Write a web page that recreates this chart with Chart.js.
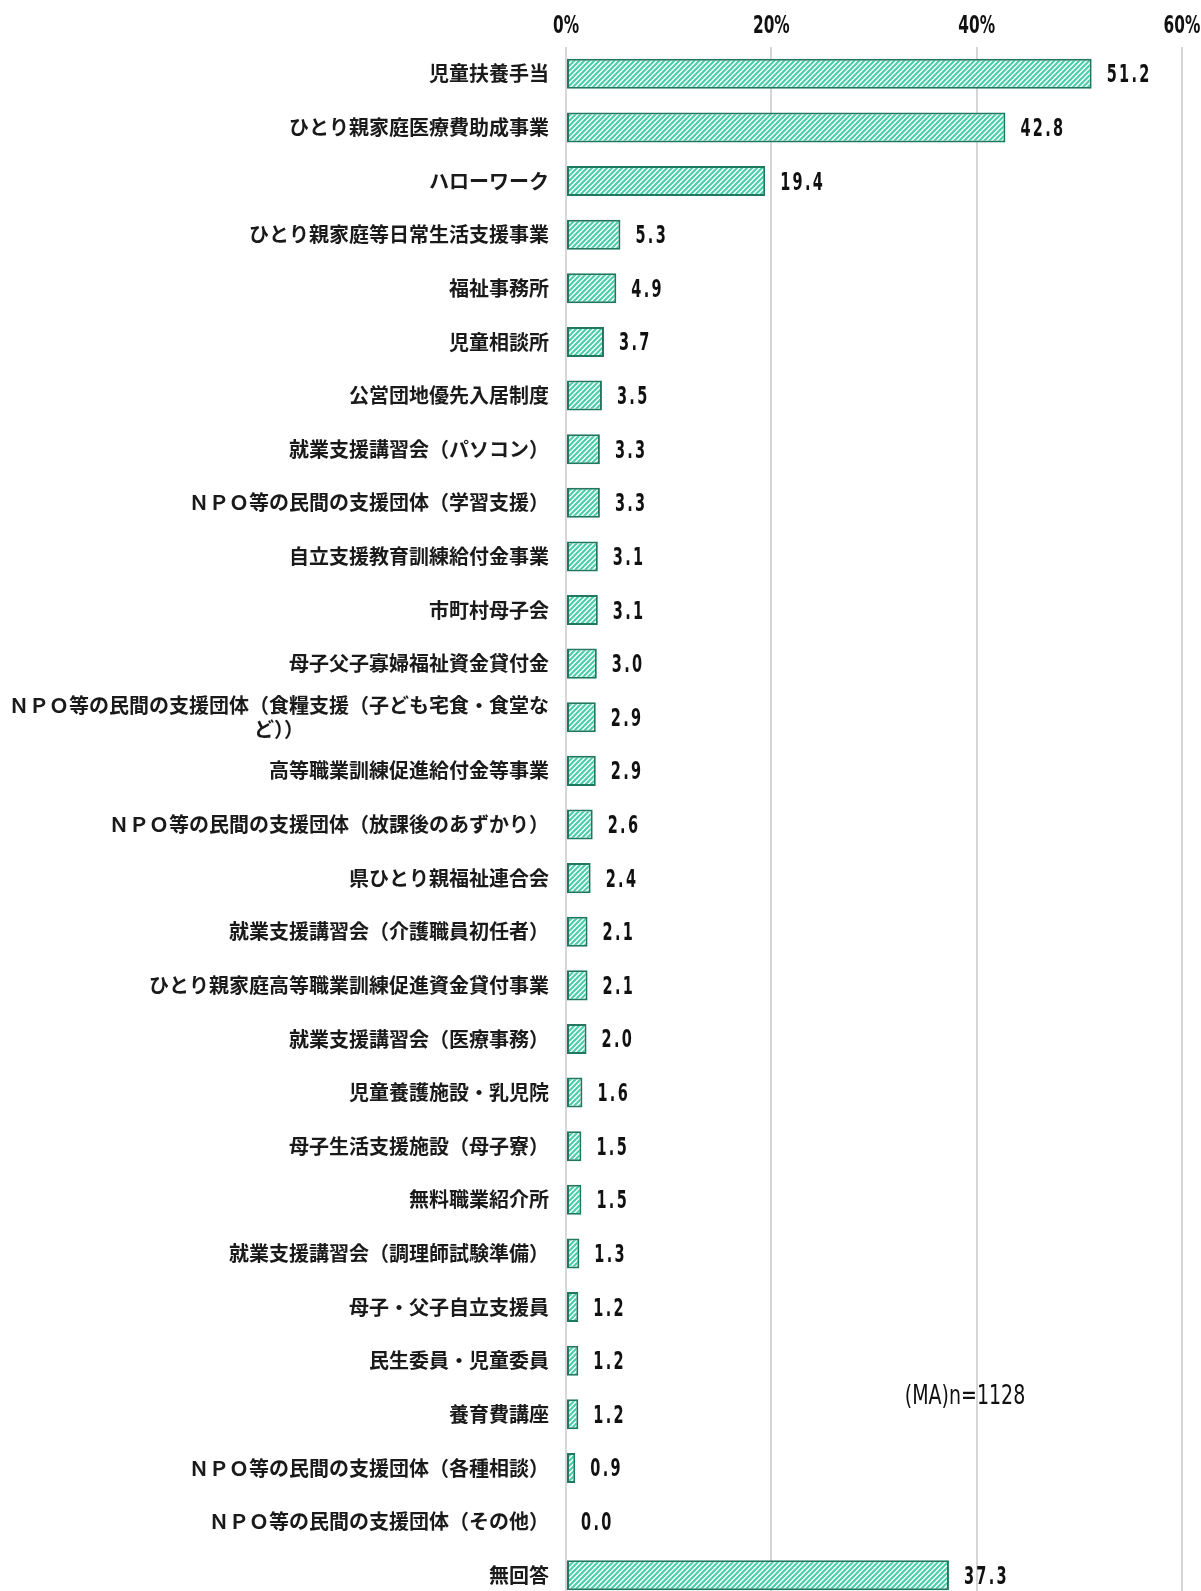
<!DOCTYPE html>
<html>
<head>
<meta charset="utf-8">
<script src="https://cdn.jsdelivr.net/npm/chart.js@4/dist/chart.umd.min.js"></script>
</head>
<body style="margin:0; overflow:hidden; background:#fff">
<canvas id="myChart" width="1201" height="1602"></canvas>
<script>
// categories and values
const categories = [
  '児童扶養手当',
  'ひとり親家庭医療費助成事業',
  'ハローワーク',
  'ひとり親家庭等日常生活支援事業',
  '福祉事務所',
  '児童相談所',
  '公営団地優先入居制度',
  '就業支援講習会（パソコン）',
  'ＮＰＯ等の民間の支援団体（学習支援）',
  '自立支援教育訓練給付金事業',
  '市町村母子会',
  '母子父子寡婦福祉資金貸付金',
  ['ＮＰＯ等の民間の支援団体（食糧支援（子ども宅食・食堂な', 'ど））'],
  '高等職業訓練促進給付金等事業',
  'ＮＰＯ等の民間の支援団体（放課後のあずかり）',
  '県ひとり親福祉連合会',
  '就業支援講習会（介護職員初任者）',
  'ひとり親家庭高等職業訓練促進資金貸付事業',
  '就業支援講習会（医療事務）',
  '児童養護施設・乳児院',
  '母子生活支援施設（母子寮）',
  '無料職業紹介所',
  '就業支援講習会（調理師試験準備）',
  '母子・父子自立支援員',
  '民生委員・児童委員',
  '養育費講座',
  'ＮＰＯ等の民間の支援団体（各種相談）',
  'ＮＰＯ等の民間の支援団体（その他）',
  '無回答'
];
const values = [51.2, 42.8, 19.4, 5.3, 4.9, 3.7, 3.5, 3.3, 3.3, 3.1, 3.1, 3.0, 2.9, 2.9, 2.6,
  2.4, 2.1, 2.1, 2.0, 1.6, 1.5, 1.5, 1.3, 1.2, 1.2, 1.2, 0.9, 0.0, 37.3];
const tickValues = [0, 20, 40, 60];
const note = '(MA)n=1128';

const numFont = '"DejaVu Sans", sans-serif';
const jpFont = '"Noto Sans CJK JP", sans-serif';

// diagonal hatch for the bars
function makeHatch() {
  const c = document.createElement('canvas');
  const s = 5;
  c.width = s; c.height = s;
  const g = c.getContext('2d');
  g.fillStyle = '#ffffff';
  g.fillRect(0, 0, s, s);
  g.strokeStyle = '#4ccfaa';
  g.lineWidth = 2.2;
  g.beginPath();
  g.moveTo(-1, s + 1); g.lineTo(s + 1, -1);
  g.moveTo(-1, 1); g.lineTo(1, -1);
  g.moveTo(s - 1, s + 1); g.lineTo(s + 1, s - 1);
  g.stroke();
  return g.createPattern(c, 'repeat');
}

// the numbers in the picture use a tall narrow face, so squeeze them
function narrowText(ctx, text, x, y, align, sx) {
  ctx.save();
  ctx.translate(x, y);
  ctx.scale(sx, 1);
  ctx.textAlign = align;
  ctx.fillText(text, 0, 0);
  ctx.restore();
}

const labelPlugin = {
  id: 'labelPlugin',
  afterDraw(chart) {
    const ctx = chart.ctx;
    const yScale = chart.scales.y;
    const xScale = chart.scales.x;
    const right = chart.chartArea.left - 17;
    ctx.save();
    ctx.textBaseline = 'middle';

    // category names
    ctx.fillStyle = '#1a1a1a';
    ctx.font = 'bold 20px ' + jpFont;
    categories.forEach((label, i) => {
      const y = yScale.getPixelForValue(i);
      if (Array.isArray(label)) {
        ctx.textAlign = 'right';
        const w1 = ctx.measureText(label[0]).width;
        ctx.fillText(label[0], right, y - 12);
        ctx.textAlign = 'center';
        ctx.fillText(label[1], right - w1 / 2, y + 12);
      } else {
        ctx.textAlign = 'right';
        ctx.fillText(label, right, y);
      }
    });

    // percent ticks on top
    ctx.fillStyle = '#111';
    ctx.font = 'bold 24px ' + numFont;
    tickValues.forEach(v => {
      narrowText(ctx, v + '%', xScale.getPixelForValue(v), 27, 'center', 0.64);
    });

    // value next to each bar
    ctx.font = 'bold 25px ' + numFont;
    ctx.letterSpacing = '4px';
    const meta = chart.getDatasetMeta(0);
    meta.data.forEach((bar, i) => {
      narrowText(ctx, values[i].toFixed(1), bar.x + 15, bar.y + 2, 'left', 0.58);
    });

    // sample note
    ctx.font = '26px ' + numFont;
    ctx.letterSpacing = '0px';
    narrowText(ctx, note, xScale.getPixelForValue(33), yScale.getPixelForValue(24.66) + 1, 'left', 0.73);
    ctx.restore();
  }
};

const ctx = document.getElementById('myChart');
const myChart = new Chart(ctx, {
  type: 'bar',
  data: {
    labels: categories,
    datasets: [{
      data: values,
      backgroundColor: makeHatch(),
      borderColor: '#22785f',
      borderWidth: 2,
      borderSkipped: false,
      barPercentage: 0.56,
      categoryPercentage: 1
    }]
  },
  options: {
    indexAxis: 'y',
    responsive: false,
    animation: false,
    layout: { padding: { left: 566, right: 19, top: 47, bottom: 0 } },
    plugins: {
      legend: { display: false },
      tooltip: { enabled: false }
    },
    scales: {
      x: {
        position: 'top',
        min: 0,
        max: 60,
        afterBuildTicks: (axis) => { axis.ticks = tickValues.map(v => ({ value: v })); },
        ticks: { display: false },
        grid: { color: '#d6d6d6', lineWidth: 2, drawTicks: false },
        border: { display: false }
      },
      y: {
        display: false
      }
    }
  },
  plugins: [labelPlugin]
});
</script>
</body>
</html>
